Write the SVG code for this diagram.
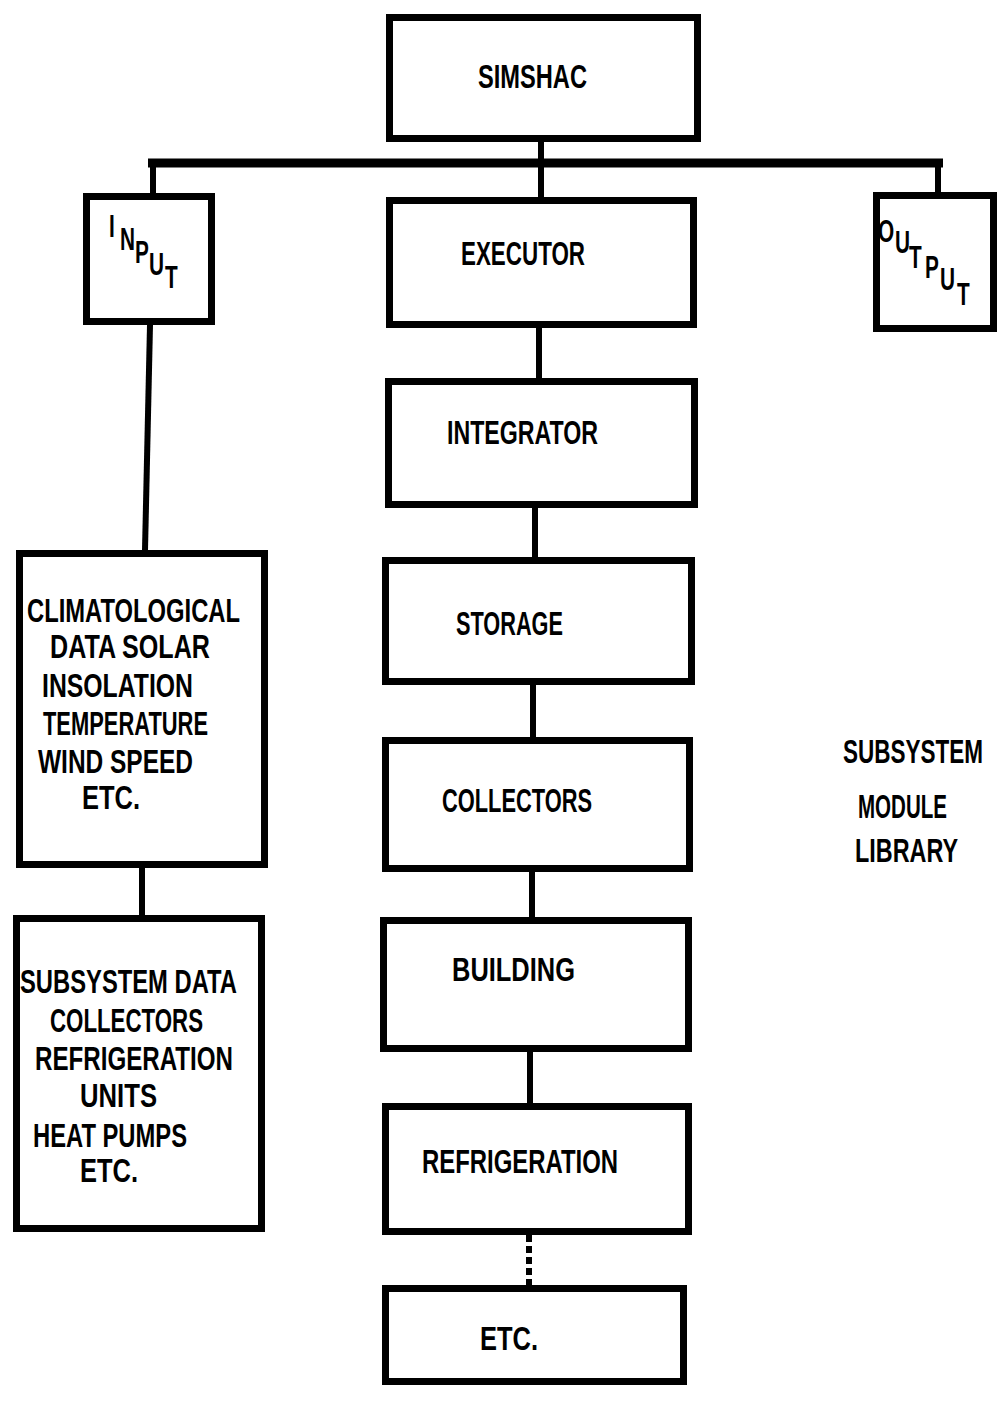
<svg xmlns="http://www.w3.org/2000/svg" width="998" height="1411" viewBox="0 0 998 1411">
<defs>
<style>
.box{fill:none;stroke:#000;stroke-width:7}
.t{font-family:"Liberation Sans",Arial,sans-serif;font-weight:bold;font-size:34px;fill:#000}
.s{font-size:32px}
.r{font-size:24px}
.c{fill:none;stroke:#000;stroke-width:6}
.bus{stroke-width:9}
.dash{stroke-dasharray:7 4}
</style>
</defs>
<rect x="0" y="0" width="998" height="1411" fill="#fff"/>
<g id="connectors">
<path class="c bus" d="M148 163 H943"/>
<path class="c" d="M153 163 V196"/>
<path class="c" d="M541 142 V197"/>
<path class="c" d="M938 163 V195"/>
<path class="c" d="M539 328 V378"/>
<path class="c" d="M535 508 V557"/>
<path class="c" d="M533 685 V737"/>
<path class="c" d="M532 872 V917"/>
<path class="c" d="M530 1052 V1103"/>
<path class="c dash" d="M529 1235 V1285"/>
<path class="c" d="M150 325 L145 550"/>
<path class="c" d="M142 868 V915"/>
</g>
<g id="simshac">
<rect class="box" x="389.5" y="17.5" width="308" height="121"/>
<text class="t" x="478" y="88" textLength="109" lengthAdjust="spacingAndGlyphs">SIMSHAC</text>
</g>
<g id="input">
<rect class="box" x="86.5" y="196.5" width="125" height="125"/>
<text class="t s" transform="scale(0.65 1)"><tspan x="167.7" y="237">I</tspan><tspan x="184.6" y="250">N</tspan><tspan x="207.7" y="263">P</tspan><tspan x="229.2" y="275">U</tspan><tspan x="253.8" y="288">T</tspan></text>
</g>
<g id="output">
<rect class="box" x="876.5" y="195.5" width="117" height="133"/>
<text class="t s" transform="scale(0.65 1)"><tspan x="1350.8" y="242">O</tspan><tspan x="1376.9" y="253">U</tspan><tspan x="1398.5" y="268">T</tspan><tspan x="1423.1" y="278">P</tspan><tspan x="1446.2" y="290">U</tspan><tspan x="1472.3" y="305">T</tspan></text>
</g>
<g id="executor">
<rect class="box" x="389.5" y="200.5" width="304" height="124"/>
<text class="t" x="461" y="265" textLength="124" lengthAdjust="spacingAndGlyphs">EXECUTOR</text>
</g>
<g id="integrator">
<rect class="box" x="388.5" y="381.5" width="306" height="123"/>
<text class="t" x="447" y="444" textLength="151" lengthAdjust="spacingAndGlyphs">INTEGRATOR</text>
</g>
<g id="storage">
<rect class="box" x="385.5" y="560.5" width="306" height="121"/>
<text class="t" x="456" y="635" textLength="107" lengthAdjust="spacingAndGlyphs">STORAGE</text>
</g>
<g id="collectors">
<rect class="box" x="385.5" y="740.5" width="304" height="128"/>
<text class="t" x="442" y="812" textLength="150" lengthAdjust="spacingAndGlyphs">COLLECTORS</text>
</g>
<g id="building">
<rect class="box" x="383.5" y="920.5" width="305" height="128"/>
<text class="t" x="452" y="981" textLength="123" lengthAdjust="spacingAndGlyphs">BUILDING</text>
</g>
<g id="refrigeration">
<rect class="box" x="385.5" y="1106.5" width="303" height="125"/>
<text class="t" x="422" y="1173" textLength="196" lengthAdjust="spacingAndGlyphs">REFRIGERATION</text>
</g>
<g id="etc">
<rect class="box" x="385.5" y="1288.5" width="298" height="93"/>
<text class="t" x="480" y="1350" textLength="58" lengthAdjust="spacingAndGlyphs">ETC.</text>
</g>
<g id="climatological">
<rect class="box" x="19.5" y="553.5" width="245" height="311"/>
<text class="t" x="27" y="622" textLength="213" lengthAdjust="spacingAndGlyphs">CLIMATOLOGICAL</text>
<text class="t" x="50" y="658" textLength="160" lengthAdjust="spacingAndGlyphs">DATA SOLAR</text>
<text class="t" x="42" y="697" textLength="151" lengthAdjust="spacingAndGlyphs">INSOLATION</text>
<text class="t" x="43" y="735" textLength="165" lengthAdjust="spacingAndGlyphs">TEMPERATURE</text>
<text class="t" x="38" y="773" textLength="155" lengthAdjust="spacingAndGlyphs">WIND SPEED</text>
<text class="t" x="82" y="809" textLength="58" lengthAdjust="spacingAndGlyphs">ETC.</text>
</g>
<g id="subsystem-data">
<rect class="box" x="16.5" y="918.5" width="245" height="310"/>
<text class="t" x="20" y="993" textLength="217" lengthAdjust="spacingAndGlyphs">SUBSYSTEM DATA</text>
<text class="t" x="50" y="1032" textLength="153" lengthAdjust="spacingAndGlyphs">COLLECTORS</text>
<text class="t" x="35" y="1070" textLength="198" lengthAdjust="spacingAndGlyphs">REFRIGERATION</text>
<text class="t" x="80" y="1107" textLength="77" lengthAdjust="spacingAndGlyphs">UNITS</text>
<text class="t" x="33" y="1147" textLength="154" lengthAdjust="spacingAndGlyphs">HEAT PUMPS</text>
<text class="t" x="80" y="1182" textLength="58" lengthAdjust="spacingAndGlyphs">ETC.</text>
</g>
<g id="library-label">
<text class="t r" transform="translate(843 763) scale(1 1.42)" textLength="140" lengthAdjust="spacingAndGlyphs">SUBSYSTEM</text>
<text class="t r" transform="translate(858 818) scale(1 1.42)" textLength="89" lengthAdjust="spacingAndGlyphs">MODULE</text>
<text class="t r" transform="translate(855 862) scale(1 1.42)" textLength="103" lengthAdjust="spacingAndGlyphs">LIBRARY</text>
</g>
</svg>
